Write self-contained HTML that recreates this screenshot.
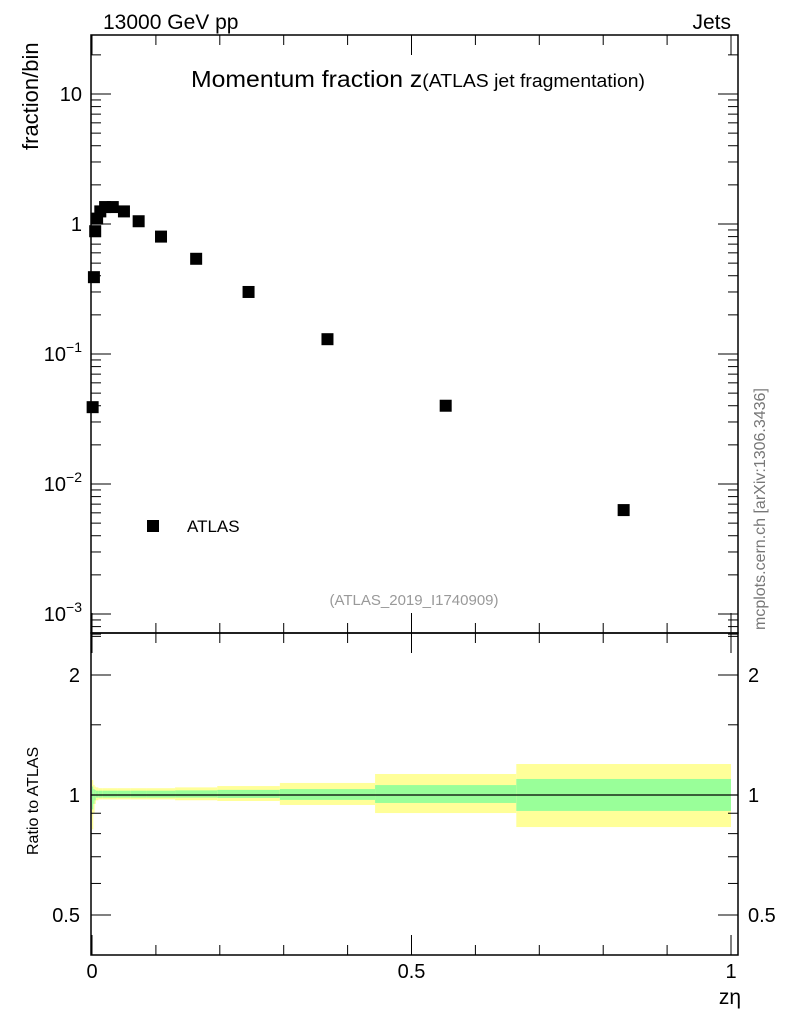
<!DOCTYPE html>
<html><head><meta charset="utf-8"><style>
body{margin:0;background:#fff;}
svg{font-family:"Liberation Sans",sans-serif;}
</style></head><body>
<svg id="c" width="786" height="1024" viewBox="0 0 786 1024" xmlns="http://www.w3.org/2000/svg">
<g id="bands"></g>
<g id="pts"></g>
<g id="ax"></g>
<rect x="91" y="35" width="647" height="598" fill="none" stroke="#000" stroke-width="1.5"/>
<rect x="91" y="633" width="647" height="322" fill="none" stroke="#000" stroke-width="1.5"/>
<text x="103" y="29" font-size="21">13000 GeV pp</text>
<text x="731" y="29" font-size="21" text-anchor="end">Jets</text>
<text x="191" y="87" font-size="23" textLength="454" lengthAdjust="spacingAndGlyphs">Momentum fraction z<tspan font-size="18">(ATLAS jet fragmentation)</tspan></text>
<text transform="translate(38,150) rotate(-90)" font-size="22">fraction/bin</text>
<text transform="translate(38,855) rotate(-90)" font-size="16">Ratio to ATLAS</text>
<text x="741" y="1004" font-size="21" text-anchor="end">zη</text>
<text x="414" y="605" font-size="15" fill="#999" text-anchor="middle">(ATLAS_2019_I1740909)</text>
<text transform="translate(765,630) rotate(-90)" font-size="16" fill="#777">mcplots.cern.ch [arXiv:1306.3436]</text>
<rect x="147" y="520" width="12" height="12" fill="#000"/>
<text x="187" y="532" font-size="17">ATLAS</text>
</svg>
<script>
const edges=[0,0.002,0.004,0.006,0.01,0.016,0.025,0.04,0.06,0.086,0.13,0.196,0.294,0.443,0.664,1];
const values=[0.039,0.39,0.88,1.1,1.25,1.35,1.35,1.25,1.05,0.8,0.54,0.30,0.13,0.04,0.0063];
const yellowUp=[1.09,1.06,1.05,1.045,1.04,1.04,1.04,1.04,1.04,1.04,1.045,1.053,1.072,1.129,1.196];
const yellowDn=[0.82,0.9,0.95,0.97,0.975,0.975,0.975,0.975,0.975,0.975,0.97,0.966,0.944,0.901,0.831];
const greenUp=[1.05,1.035,1.03,1.025,1.025,1.025,1.025,1.025,1.025,1.025,1.027,1.03,1.035,1.059,1.097];
const greenDn=[0.92,0.95,0.97,0.985,0.985,0.985,0.985,0.985,0.985,0.985,0.985,0.983,0.972,0.955,0.912];
const mainTicks=["10^-3","10^-2","10^-1","1","10"];
const NS="http://www.w3.org/2000/svg";
const X=z=>92+z*639;
const Y=v=>224-130*Math.log10(v);
const R=r=>795-120*Math.log2(r);
function mk(p,t,a){const e=document.createElementNS(NS,t);for(const k in a)e.setAttribute(k,a[k]);p.appendChild(e);return e;}
const bands=document.getElementById('bands'),pts=document.getElementById('pts'),ax=document.getElementById('ax');
for(let i=0;i<values.length;i++){
 const x0=X(edges[i]),x1=X(edges[i+1]);
 const y=mk(bands,'rect',{x:x0,y:R(yellowUp[i]),width:x1-x0,height:R(yellowDn[i])-R(yellowUp[i]),fill:'#ffff99'});
 
 
 const g=mk(bands,'rect',{x:x0,y:R(greenUp[i]),width:x1-x0,height:R(greenDn[i])-R(greenUp[i]),fill:'#99ff99'});
 
 
 const cx=X((edges[i]+edges[i+1])/2);
 const p=mk(pts,'rect',{x:cx-6,y:Y(values[i])-6,width:12,height:12,fill:'#000'});
 
 
}
mk(bands,'line',{x1:91,x2:738,y1:R(1),y2:R(1),stroke:'#000','stroke-width':1.2});
for(let d=-3;d<=1;d++){
 const y=Y(Math.pow(10,d));
 mk(ax,'line',{x1:91,x2:111,y1:y,y2:y,stroke:'#000'});mk(ax,'line',{x1:718,x2:738,y1:y,y2:y,stroke:'#000'});
 const t=mk(ax,'text',{x:82,y:y+7,'font-size':20,'text-anchor':'end'});
 
 
 const s=mainTicks[d+3];
 if(s.includes('^')){const [b,e]=s.split('^');t.textContent=b;const ts=mk(t,'tspan',{dy:-9,'font-size':14});ts.textContent=e.replace('-','\u2212');}
 else t.textContent=s;
 for(let m=2;m<10;m++){const yy=Y(m*Math.pow(10,d));if(yy<36)continue;
  mk(ax,'line',{x1:91,x2:101,y1:yy,y2:yy,stroke:'#000'});mk(ax,'line',{x1:728,x2:738,y1:yy,y2:yy,stroke:'#000'});}
}
for(let m=7;m<10;m++){const yy=Y(m*1e-4);mk(ax,'line',{x1:91,x2:101,y1:yy,y2:yy,stroke:'#000'});mk(ax,'line',{x1:728,x2:738,y1:yy,y2:yy,stroke:'#000'});}
[0.5,1,2].forEach(r=>{const y=R(r);
 mk(ax,'line',{x1:91,x2:111,y1:y,y2:y,stroke:'#000'});mk(ax,'line',{x1:718,x2:738,y1:y,y2:y,stroke:'#000'});
 const l=mk(ax,'text',{x:80,y:y+7,'font-size':20,'text-anchor':'end'});l.textContent=String(r);
 
 
 const rr=mk(ax,'text',{x:748,y:y+7,'font-size':20});rr.textContent=String(r);
 
 
});
[0.6,0.7,0.8,0.9,1.5,2.5].forEach(r=>{const y=R(r);if(y<634)return;mk(ax,'line',{x1:91,x2:101,y1:y,y2:y,stroke:'#000'});mk(ax,'line',{x1:728,x2:738,y1:y,y2:y,stroke:'#000'});});
for(let k=0;k<=10;k++){const x=X(k/10),L=(k%5==0)?20:10;
 mk(ax,'line',{x1:x,x2:x,y1:955,y2:955-L,stroke:'#000'});mk(ax,'line',{x1:x,x2:x,y1:633,y2:633-L,stroke:'#000'});
 mk(ax,'line',{x1:x,x2:x,y1:633,y2:633+L,stroke:'#000'});mk(ax,'line',{x1:x,x2:x,y1:35,y2:35+L,stroke:'#000'});
 if(k%5==0){const t=mk(ax,'text',{x:x,y:978,'font-size':20,'text-anchor':'middle'});t.textContent=['0','0.5','1'][k/5];
  
  }
}
</script>
</body></html>
